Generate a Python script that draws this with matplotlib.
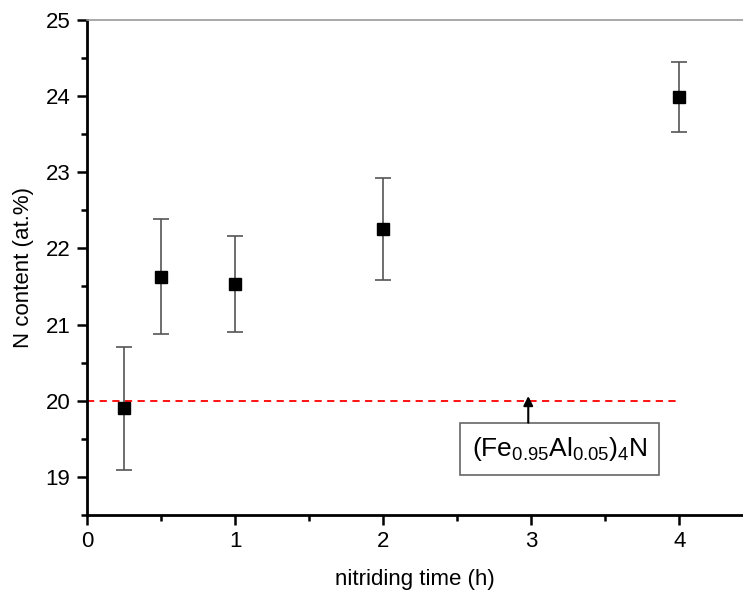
import matplotlib.pyplot as plt

# nitriding time (h) vs N content (at.%)
time_h = [0.25, 0.5, 1, 2, 4]
n_content = [19.9, 21.63, 21.53, 22.26, 23.99]
n_err = [0.81, 0.75, 0.63, 0.67, 0.46]

ref_level = 20.0
ref_xrange = [0, 4]
ref_label = r'(Fe$_{0.95}$Al$_{0.05}$)$_4$N'

plt.rcParams['font.family'] = ['Liberation Sans', 'DejaVu Sans']
plt.rcParams['mathtext.fontset'] = 'custom'
plt.rcParams['mathtext.rm'] = 'Liberation Sans'
plt.rcParams['mathtext.it'] = 'Liberation Sans'

fig = plt.figure(figsize=(7.43, 5.91), dpi=100)
ax = fig.add_axes([0.117, 0.129, 0.883, 0.837])

ax.errorbar(time_h, n_content, yerr=n_err, fmt='s', color='black',
            ecolor='#555555', elinewidth=1.2, capsize=6, capthick=1.2,
            markersize=8, zorder=3)

ax.plot(ref_xrange, [ref_level, ref_level], color='red', linestyle=(0, (4, 3)),
        linewidth=1.3, zorder=2)

# label box and arrow pointing at the reference line
ax.text(3.19, 19.36, ref_label, ha='center', va='center', fontsize=19,
        bbox=dict(boxstyle='square,pad=0.45', fc='white', ec='#666666', lw=1.2))
ax.annotate('', xy=(2.98, ref_level + 0.06), xytext=(2.98, 19.71),
            arrowprops=dict(arrowstyle='-|>', color='black', lw=1.5,
                            mutation_scale=14, shrinkA=0, shrinkB=0))

ax.set_xlim(0, 4.43)
ax.set_ylim(18.5, 25)
ax.set_xticks([0, 1, 2, 3, 4])
ax.set_xticks([0.5, 1.5, 2.5, 3.5], minor=True)
ax.set_yticks([19, 20, 21, 22, 23, 24, 25])
ax.set_yticks([18.5 + 0.5 * i for i in range(0, 14, 2)], minor=True)

ax.tick_params(which='major', direction='out', length=7, width=1.8, labelsize=16, pad=5)
ax.tick_params(which='minor', direction='out', length=4, width=1.8)

ax.spines['left'].set_linewidth(2)
ax.spines['bottom'].set_linewidth(2)
ax.spines['top'].set_color('#999999')
ax.spines['top'].set_linewidth(1.2)
ax.spines['right'].set_visible(False)

ax.set_xlabel('nitriding time (h)', fontsize=16, labelpad=12)
ax.set_ylabel('N content (at.%)', fontsize=16, labelpad=8)

fig.savefig('out.png', dpi=100)
